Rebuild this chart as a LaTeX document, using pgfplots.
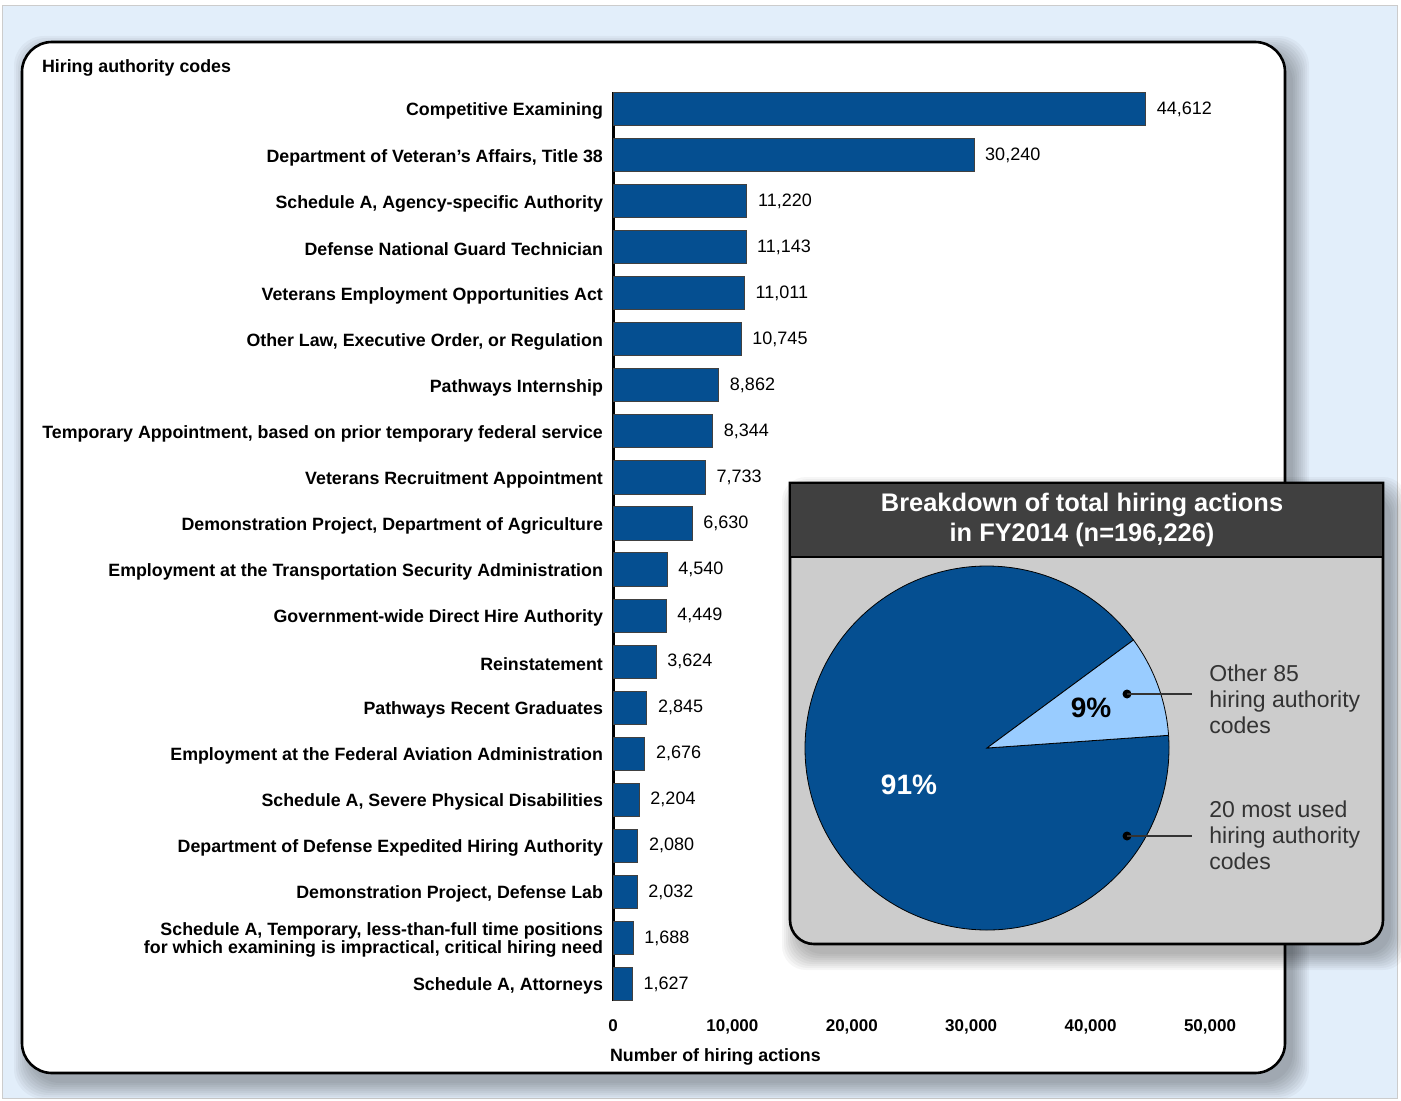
\documentclass[border=0pt]{standalone}
\usepackage{pgfplots}
\pgfplotsset{compat=1.18}
\usepackage{fontspec}
\setmainfont{Liberation Sans}
\definecolor{barblue}{RGB}{5,79,145}
\definecolor{lightslice}{RGB}{153,204,255}
\definecolor{bgblue}{RGB}{226,238,250}
\definecolor{hdr}{RGB}{64,64,64}
\definecolor{panel}{RGB}{204,204,204}
\definecolor{lbl}{RGB}{51,51,51}

\begin{document}
\begin{tikzpicture}[x=0.5pt,y=0.5pt]
\useasboundingbox (0,0) rectangle (1401,1100);
\fill[white] (0,0) rectangle (1401,1100);
\filldraw[fill=bgblue, draw=black!20] (2,2) rectangle (1397,1095);

% soft shadow behind the main panel
\foreach \s in {0,2,...,16} {
  \fill[black, opacity=0.035, rounded corners=15pt] (22+8-\s,27-10-\s) rectangle (1285+8+\s,1058-10+\s);
}
\filldraw[fill=white, draw=black, line width=1.3pt, rounded corners=15pt] (22,27) rectangle (1285,1058);

\node[anchor=west, font=\fontsize{8.9}{10}\selectfont\bfseries] at (35,1032) {Hiring authority codes};

\coordinate (barorigin) at (613,99);
\begin{axis}[
  at={(barorigin)}, anchor=south west,
  scale only axis,
  width=298.5pt, height=454.5pt,
  xbar, bar width=0.72,
  xmin=0, xmax=50000,
  ymin=-0.37, ymax=19.37,
  xtick={0,10000,...,50000},
  scaled ticks=false,
  /pgf/number format/assume math mode=true,
  /pgf/number format/1000 sep={,},
  ytick={0,...,19},
  yticklabels={
    {Schedule A, Attorneys},
    {Schedule A, Temporary, less-than-full time positions\\for which examining is impractical, critical hiring need},
    {Demonstration Project, Defense Lab},
    {Department of Defense Expedited Hiring Authority},
    {Schedule A, Severe Physical Disabilities},
    {Employment at the Federal Aviation Administration},
    {Pathways Recent Graduates},
    {Reinstatement},
    {Government-wide Direct Hire Authority},
    {Employment at the Transportation Security Administration},
    {Demonstration Project, Department of Agriculture},
    {Veterans Recruitment Appointment},
    {Temporary Appointment, based on prior temporary federal service},
    {Pathways Internship},
    {Other Law, Executive Order, or Regulation},
    {Veterans Employment Opportunities Act},
    {Defense National Guard Technician},
    {Schedule A, Agency-specific Authority},
    {Department of Veteran’s Affairs, Title 38},
    {Competitive Examining}},
  yticklabel style={font=\fontsize{8.9}{9}\selectfont\bfseries, align=right, xshift=-1.5pt, yshift=-1.2pt},
  xticklabel style={font=\fontsize{8.5}{10}\selectfont\bfseries, yshift=-6pt},
  major tick length=0pt,
  axis lines*=left,
  x axis line style={draw=none},
  y axis line style={line width=1.5pt},
  nodes near coords,
  nodes near coords style={font=\fontsize{9}{10}\selectfont, xshift=2pt, black},
  clip=false,
]
\addplot[fill=barblue, draw=black!75, line width=0.5pt] coordinates {
  (1627,0) (1688,1) (2032,2) (2080,3) (2204,4) (2676,5) (2845,6) (3624,7)
  (4449,8) (4540,9) (6630,10) (7733,11) (8344,12) (8862,13) (10745,14)
  (11011,15) (11143,16) (11220,17) (30240,18) (44612,19)
};
\end{axis}

\node[anchor=west, font=\fontsize{8.9}{10}\selectfont\bfseries] at (603,43) {Number of hiring actions};

% inset panel with pie
\foreach \s in {0,2,...,16} {
  \fill[black, opacity=0.035, rounded corners=12pt] (790+8-\s,156-10-\s) rectangle (1383+8+\s,617-10+\s);
}
\filldraw[fill=panel, draw=black, line width=1.3pt] (790,617) [rounded corners=12pt]-- (790,156) -- (1383,156) [sharp corners]-- (1383,617) -- cycle;
\fill[hdr] (790,543) rectangle (1383,617);
\draw[line width=1.3pt] (790,543) -- (1383,543);
\draw[line width=1.3pt] (790,617) -- (1383,617) -- (1383,543);
\draw[line width=1.3pt] (790,617) -- (790,543);
\node[align=center, text=white, font=\fontsize{12.7}{15}\selectfont\bfseries] at (1082,580) {Breakdown of total hiring actions\\in FY2014 (n=196,226)};

\def\otherpct{9}
\def\startang{4}
\pgfmathsetmacro\endang{\startang+\otherpct*3.6}
\filldraw[fill=barblue, draw=black, line width=0.4pt] (987,352) -- ++(\endang:182) arc[start angle=\endang, end angle=360+\startang, radius=182] -- cycle;
\filldraw[fill=lightslice, draw=black, line width=0.4pt] (987,352) -- ++(\startang:182) arc[start angle=\startang, end angle=\endang, radius=182] -- cycle;

\node[font=\fontsize{14}{16}\selectfont\bfseries] at (1091,392) {9\%};
\node[font=\fontsize{14}{16}\selectfont\bfseries, text=white] at (909,315) {91\%};

\fill (1127,406) circle (4.5);
\draw[line width=0.8pt, lbl] (1127,406) -- (1192,406);
\fill (1127,264) circle (4.5);
\draw[line width=0.8pt, lbl] (1127,264) -- (1192,264);

\node[anchor=west, align=left, text=lbl, inner sep=0pt, font=\fontsize{11.5}{13}\selectfont] at (1209,401) {Other 85\\hiring authority\\codes};
\node[anchor=west, align=left, text=lbl, inner sep=0pt, font=\fontsize{11.5}{13}\selectfont] at (1209,265) {20 most used\\hiring authority\\codes};
\end{tikzpicture}
\end{document}
